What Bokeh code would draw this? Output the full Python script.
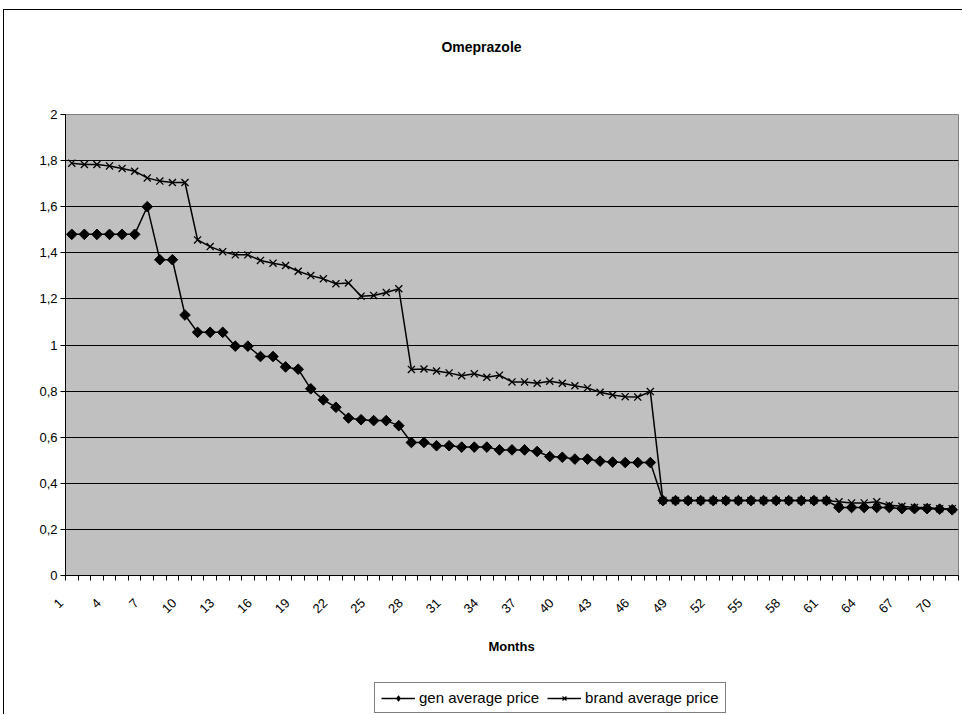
from math import pi

from bokeh.core.properties import value
from bokeh.document import Document
from bokeh.embed import file_html
from bokeh.layouts import column
from bokeh.models import (ColumnDataSource, CustomJS, FixedTicker, Label,
                          Legend, LegendItem, Range1d)
from bokeh.plotting import figure
from bokeh.resources import INLINE

# Monthly average prices (71 months)
months = list(range(1, 72))

gen_price = [
    1.48, 1.48, 1.48, 1.48, 1.48, 1.48,
    1.60,
    1.37, 1.37,
    1.13,
    1.055, 1.055, 1.055,
    0.995, 0.995,
    0.95, 0.95,
    0.905, 0.895,
    0.81, 0.762, 0.73, 0.683, 0.676, 0.672, 0.672, 0.65,
    0.577, 0.577, 0.563, 0.563, 0.557, 0.557, 0.557,
    0.545, 0.545, 0.545, 0.538, 0.516, 0.513, 0.505, 0.505,
    0.496, 0.492, 0.49, 0.49, 0.49,
    0.325, 0.325, 0.325, 0.325, 0.325, 0.325, 0.325,
    0.325, 0.325, 0.325, 0.325, 0.325, 0.325, 0.325,
    0.295, 0.295, 0.295, 0.295, 0.295,
    0.29, 0.29, 0.29, 0.288, 0.285,
]

brand_price = [
    1.789, 1.783, 1.783, 1.777, 1.766, 1.754,
    1.725, 1.711, 1.705, 1.705,
    1.456, 1.427, 1.405, 1.391, 1.391, 1.367, 1.355, 1.345, 1.320, 1.301,
    1.287, 1.266, 1.269, 1.212, 1.215, 1.228, 1.244,
    0.894, 0.896, 0.887, 0.879, 0.867, 0.875, 0.860, 0.869, 0.840,
    0.840, 0.834, 0.843, 0.834, 0.823, 0.814, 0.795, 0.783, 0.776,
    0.774, 0.798,
    0.325, 0.325, 0.325, 0.325, 0.325, 0.325, 0.325,
    0.325, 0.325, 0.325, 0.325, 0.325, 0.325, 0.325,
    0.32, 0.315, 0.315, 0.32, 0.305, 0.30, 0.295, 0.295, 0.29, 0.29,
]

x_tick_months = list(range(1, 71, 3))
x_tick_labels = [str(m) for m in x_tick_months]
y_ticks = [0, 0.2, 0.4, 0.6, 0.8, 1, 1.2, 1.4, 1.6, 1.8, 2]
y_tick_labels = ["0", "0,2", "0,4", "0,6", "0,8", "1", "1,2", "1,4", "1,6", "1,8", "2"]

FONT = "Liberation Sans"
W = 962
FL, FR = 65, 958                       # plot-area left/right on the page
TITLE_H, CHART_H, TICKS_H, LEGEND_H = 60, 527, 85, 42   # stacked strips, 714 px
FT = 114 - TITLE_H                     # plot-area top inside the chart strip
FB = 575 - TITLE_H                     # plot-area bottom inside the chart strip

x_lo, x_hi = months[0] - 0.5, months[-1] + 0.5


def bare_strip(height, x_range=None, full_width=False):
    """A figure without axes, used for the texts around the plot area."""
    f = figure(width=W, height=height, output_backend="svg", toolbar_location=None,
               x_range=x_range if x_range is not None else Range1d(0, 1),
               y_range=Range1d(0, height),
               x_axis_location=None, y_axis_location=None,
               min_border_left=0 if full_width else FL,
               min_border_right=0 if full_width else W - FR,
               min_border_top=0, min_border_bottom=0)
    if full_width:
        f.frame_align = False
    f.grid.visible = False
    f.background_fill_color = None
    f.border_fill_color = None
    f.outline_line_color = None
    return f


# ---- title strip
head = bare_strip(TITLE_H)
head.add_layout(Label(x=481 - FL, y=TITLE_H - 46, x_units="screen", y_units="screen",
                      text="Omeprazole", text_align="center", text_baseline="middle",
                      text_font=FONT, text_font_size="14px",
                      text_font_style="bold", text_color="black"))

# ---- chart strip
p = figure(
    width=W, height=CHART_H, output_backend="svg", toolbar_location=None,
    x_range=Range1d(x_lo, x_hi), y_range=Range1d(0, 2),
    min_border_left=FL, min_border_right=W - FR,
    min_border_top=FT, min_border_bottom=CHART_H - FB,
)
p.background_fill_color = "#C0C0C0"
p.border_fill_color = None
p.outline_line_color = "#808080"
p.outline_line_width = 1

p.xgrid.grid_line_color = None
p.ygrid.ticker = FixedTicker(ticks=y_ticks)
p.ygrid.grid_line_color = "black"
p.ygrid.grid_line_width = 1

ya = p.yaxis[0]
ya.ticker = FixedTicker(ticks=y_ticks)
ya.major_label_overrides = dict(zip(y_ticks, y_tick_labels))
ya.axis_line_color = "black"
ya.major_tick_line_color = "black"
ya.major_tick_out = 5
ya.major_tick_in = 0
ya.minor_tick_line_color = None
ya.major_label_standoff = 3
ya.major_label_text_font = FONT
ya.major_label_text_font_size = "13px"
ya.major_label_text_color = "black"

# a tick at each month boundary; the slanted month labels sit in the strip below
month_edges = [m - 0.5 for m in months] + [months[-1] + 0.5]
xa = p.xaxis[0]
xa.ticker = FixedTicker(ticks=[], minor_ticks=month_edges)
xa.axis_line_color = "black"
xa.major_tick_line_color = None
xa.minor_tick_line_color = "black"
xa.minor_tick_out = 5
xa.minor_tick_in = 0

LINE = dict(line_color="black", line_width=1.5)
GEN_MARK = dict(marker="square", angle=pi / 4, size=7.5,
                fill_color="black", line_color="black")
BRAND_MARK = dict(marker="x", size=10, line_color="black", line_width=1.3)

p.line(months, gen_price, **LINE)
p.scatter(months, gen_price, **GEN_MARK)
p.line(months, brand_price, **LINE)
p.scatter(months, brand_price, **BRAND_MARK)

# ---- month labels strip: full page width, same month scale as the chart
px_per_month = (FR - FL) / (x_hi - x_lo)
tick_range = Range1d(x_lo - FL / px_per_month, x_hi + (W - FR) / px_per_month)
ticks = bare_strip(TICKS_H, x_range=tick_range, full_width=True)
tick_src = ColumnDataSource(dict(x=x_tick_months, text=x_tick_labels))
ticks.text(x="x", y=value(TICKS_H - 10), text="text", source=tick_src,
           angle=pi / 4, x_offset=-14, text_align="right", text_baseline="top",
           text_font=value(FONT), text_font_size="13px", text_color="black")
ticks.add_layout(Label(x=511, y=TICKS_H - 59, x_units="screen", y_units="screen",
                       text="Months", text_align="center", text_baseline="middle",
                       text_font=FONT, text_font_size="13px",
                       text_font_style="bold", text_color="black"))

# ---- legend strip; its key renderers sit outside the strip's visible range
foot = bare_strip(LEGEND_H, x_range=Range1d(-200, -100))
k_gen_line = foot.line(months, gen_price, **LINE)
k_gen_mark = foot.scatter(months, gen_price, marker="diamond", size=11,
                          fill_color="black", line_color="black")
k_brand_line = foot.line(months, brand_price, **LINE)
k_brand_mark = foot.scatter(months, brand_price, **BRAND_MARK)
legend = Legend(
    items=[LegendItem(label="gen average price", renderers=[k_gen_line, k_gen_mark]),
           LegendItem(label="brand average price", renderers=[k_brand_line, k_brand_mark])],
    orientation="horizontal",
    location=(374 - FL, 1),
    border_line_color="black", border_line_width=1,
    background_fill_color="white", background_fill_alpha=1,
    label_text_font=FONT, label_text_font_size="15px", label_text_color="black",
    glyph_width=34, glyph_height=14, spacing=8, padding=6, margin=0,
    label_standoff=4,
)
foot.add_layout(legend)

page = column(head, p, ticks, foot, spacing=0)
# thin chart-area border along the top and left of the page
page.styles = {
    "background": ("linear-gradient(#000, #000) 3px 9px / 1px 705px no-repeat, "
                   "linear-gradient(#000, #000) 3px 9px / 959px 1px no-repeat, #fff"),
}

doc = Document()
doc.add_root(page)
# repaint the month labels once the page is ready
doc.js_on_event("document_ready", CustomJS(args=dict(src=tick_src), code="""
    setTimeout(() => src.change.emit(), 60)
"""))

open("out.html", "w").write(file_html(doc, INLINE))
